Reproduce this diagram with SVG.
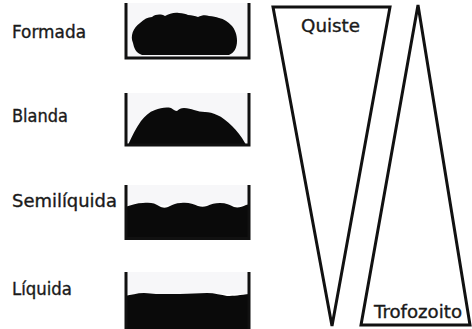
<svg xmlns="http://www.w3.org/2000/svg" width="472" height="329" viewBox="0 0 472 329">
  <style>
    .lbl { font-family: "DejaVu Sans", "Liberation Sans", sans-serif; font-size: 17px; fill: #1a1a1a; stroke: #1a1a1a; stroke-width: 0.35; }
    .wall { fill: none; stroke: #111; stroke-width: 3; stroke-linejoin: miter; }
    .mass { fill: #0a0a0a; stroke: none; }
    .tri { fill: none; stroke: #111; stroke-width: 3; stroke-linejoin: miter; }
    .inside { fill: #f7f7f9; stroke: none; }
  </style>
  <rect width="472" height="329" fill="#ffffff"/>

  <!-- stool consistency samples: label + open container with contents -->
  <g id="formada">
    <text class="lbl" x="12" y="38" textLength="74" lengthAdjust="spacingAndGlyphs">Formada</text>
    <rect class="inside" x="127" y="3" width="121" height="54"/>
    <path class="mass" d="M133,43 C130,36 133,28 140,23 C144,19 148,17 152,17 C156,14 161,14 165,16 C169,14 174,12 179,13 C183,13 186,14 188,15 C192,15 195,16 198,17 C202,15 206,15 209,16 C213,16 216,17 219,18 C224,19 228,22 231,25 C235,29 237,35 237,41 C237,48 234,53 229,55 L142,55 C136,53 134,48 133,43 Z"/>
    <path class="wall" d="M126,3 V58 H249 V3"/>
  </g>

  <g id="blanda">
    <text class="lbl" x="12" y="122" textLength="56" lengthAdjust="spacingAndGlyphs">Blanda</text>
    <rect class="inside" x="127" y="93" width="121" height="51"/>
    <path class="mass" d="M128,145 C132,136 136,128 141,121 C145,116 149,112 155,110 C160,108 166,107 171,108 C173,109 175,111 177,111 C179,109 181,108 184,108 C188,108 191,109 194,110 C198,111 201,112 205,112 C209,112 213,113 217,115 C222,117 227,121 232,126 C237,131 241,136 245,143 L246,145 Z"/>
    <path class="wall" d="M126,93 V145 H249 V93"/>
  </g>

  <g id="semiliquida">
    <text class="lbl" x="12" y="207" textLength="105" lengthAdjust="spacingAndGlyphs">Semilíquida</text>
    <rect class="inside" x="127" y="185" width="121" height="20"/>
    <path class="mass" d="M125,207 C132,205 137,203 143,203 C150,202 155,203 159,206 C162,208 165,208 168,207 C172,205 176,203 181,203 C188,202 193,204 198,206 C201,207 204,207 207,206 C211,204 215,203 220,203 C226,203 230,205 234,207 C238,208 242,207 246,205 L250,204 V240 H125 Z"/>
    <path class="wall" d="M126,185 V238.5 H249 V185"/>
  </g>

  <g id="liquida">
    <text class="lbl" x="12" y="295" textLength="60" lengthAdjust="spacingAndGlyphs">Líquida</text>
    <rect class="inside" x="127" y="272" width="121" height="22"/>
    <path class="mass" d="M125,296 C131,295 137,293 144,293 C149,293 152,294 156,294 L180,294 C190,294 198,293 207,293 C215,293 221,295 227,296 C234,296 240,295 250,294 V329 H125 Z"/>
    <path class="wall" d="M126,272 V329 M249,272 V329"/>
  </g>

  <!-- relative abundance wedges -->
  <g id="quiste">
    <path class="tri" d="M273,7 H390 L332,326 Z"/>
    <text class="lbl" x="301" y="32" textLength="59" lengthAdjust="spacingAndGlyphs">Quiste</text>
  </g>

  <g id="trofozoito">
    <path class="tri" d="M418,5 L470,325 H361 Z"/>
    <text class="lbl" x="374" y="318" textLength="88" lengthAdjust="spacingAndGlyphs">Trofozoito</text>
  </g>
</svg>
